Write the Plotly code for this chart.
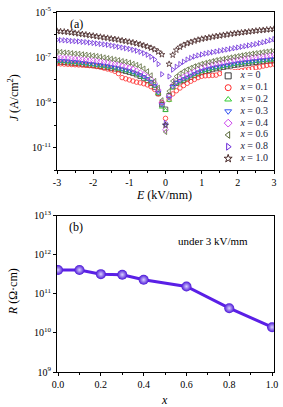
import plotly.graph_objects as go

# ---------------- data ----------------
E = [round(-3.0 + 0.1 * i, 1) for i in range(61)]

# log10 J (A/cm^2), E = -3.0 ... 3.0 step 0.1
logJ_x0 = [-7.20, -7.21, -7.22, -7.24, -7.25, -7.27, -7.28, -7.30, -7.32, -7.34,
           -7.36, -7.38, -7.40, -7.43, -7.45, -7.48, -7.51, -7.54, -7.58, -7.62,
           -7.66, -7.71, -7.77, -7.84, -7.92, -8.02, -8.15, -8.32, -8.60, -9.10,
           -9.30,
           -8.70, -8.30, -8.15, -8.08, -8.02, -7.95, -7.88, -7.80, -7.73, -7.67,
           -7.62, -7.58, -7.54, -7.50, -7.47, -7.44, -7.41, -7.38, -7.35, -7.33,
           -7.30, -7.28, -7.26, -7.24, -7.22, -7.20, -7.19, -7.17, -7.16, -7.15]
logJ_x01 = [-7.28, -7.29, -7.30, -7.31, -7.32, -7.33, -7.34, -7.35, -7.36, -7.37,
            -7.38, -7.41, -7.44, -7.48, -7.52, -7.56, -7.62, -7.72, -7.90, -7.95,
            -8.00, -8.05, -8.10, -8.13, -8.17, -8.22, -8.30, -8.42, -8.62, -9.00,
            -9.70,
            -8.87, -8.62, -8.48, -8.36, -8.25, -8.15, -8.06, -7.98, -7.90, -7.84,
            -7.82, -7.81, -7.80, -7.79, -7.72, -7.70, -7.68, -7.66, -7.64, -7.62,
            -7.59, -7.56, -7.53, -7.50, -7.46, -7.43, -7.39, -7.36, -7.33, -7.30]
logJ_x02 = [-7.17, -7.18, -7.19, -7.21, -7.22, -7.24, -7.25, -7.27, -7.29, -7.31,
            -7.33, -7.35, -7.37, -7.40, -7.42, -7.45, -7.48, -7.52, -7.55, -7.59,
            -7.63, -7.68, -7.74, -7.81, -7.89, -7.98, -8.10, -8.28, -8.60, -9.20,
            -9.35,
            -8.90, -8.35, -8.15, -8.06, -7.99, -7.91, -7.83, -7.76, -7.69, -7.63,
            -7.58, -7.54, -7.50, -7.46, -7.43, -7.40, -7.37, -7.34, -7.31, -7.29,
            -7.26, -7.24, -7.22, -7.20, -7.18, -7.16, -7.15, -7.13, -7.12, -7.11]
logJ_x03 = [-7.14, -7.15, -7.16, -7.17, -7.19, -7.20, -7.22, -7.24, -7.26, -7.28,
            -7.30, -7.32, -7.34, -7.36, -7.39, -7.42, -7.45, -7.48, -7.52, -7.56,
            -7.60, -7.65, -7.71, -7.78, -7.86, -7.95, -8.07, -8.25, -8.55, -9.10,
            -10.0,
            -8.80, -8.30, -8.12, -8.03, -7.96, -7.88, -7.80, -7.72, -7.65, -7.59,
            -7.54, -7.50, -7.46, -7.43, -7.40, -7.37, -7.34, -7.31, -7.28, -7.25,
            -7.23, -7.21, -7.19, -7.17, -7.15, -7.13, -7.11, -7.10, -7.08, -7.07]
logJ_x04 = [-7.02, -7.03, -7.04, -7.05, -7.07, -7.08, -7.09, -7.11, -7.12, -7.14,
            -7.15, -7.17, -7.19, -7.21, -7.24, -7.27, -7.30, -7.33, -7.37, -7.41,
            -7.46, -7.52, -7.60, -7.68, -7.76, -7.86, -7.98, -8.15, -8.45, -9.00,
            -10.2,
            -8.75, -8.25, -8.05, -7.95, -7.87, -7.79, -7.71, -7.63, -7.54, -7.46,
            -7.41, -7.37, -7.33, -7.30, -7.27, -7.24, -7.21, -7.18, -7.15, -7.12,
            -7.09, -7.07, -7.04, -7.02, -7.00, -6.98, -6.96, -6.94, -6.92, -6.90]
logJ_x06 = [-6.76, -6.77, -6.79, -6.80, -6.82, -6.84, -6.85, -6.87, -6.89, -6.91,
            -6.93, -6.95, -6.98, -7.01, -7.04, -7.07, -7.10, -7.13, -7.17, -7.20,
            -7.24, -7.29, -7.34, -7.40, -7.50, -7.62, -7.80, -8.05, -8.35, -8.90,
            -10.3,
            -8.50, -8.05, -7.85, -7.72, -7.62, -7.54, -7.47, -7.40, -7.35, -7.29,
            -7.25, -7.21, -7.17, -7.13, -7.10, -7.07, -7.04, -7.01, -6.98, -6.95,
            -6.92, -6.89, -6.87, -6.84, -6.82, -6.80, -6.77, -6.75, -6.73, -6.71]
logJ_x08 = [-6.23, -6.24, -6.25, -6.26, -6.28, -6.29, -6.30, -6.32, -6.33, -6.35,
            -6.37, -6.39, -6.41, -6.43, -6.45, -6.48, -6.51, -6.54, -6.57, -6.60,
            -6.63, -6.67, -6.71, -6.76, -6.82, -6.89, -6.98, -7.10, -7.30, -7.75,
            -9.90,
            -7.85, -7.55, -7.42, -7.30, -7.20, -7.10, -7.03, -6.97, -6.92, -6.88,
            -6.84, -6.81, -6.78, -6.75, -6.72, -6.69, -6.66, -6.63, -6.60, -6.57,
            -6.54, -6.51, -6.48, -6.45, -6.42, -6.38, -6.34, -6.30, -6.25, -6.20]
logJ_x10 = [-5.84, -5.86, -5.87, -5.89, -5.91, -5.93, -5.96, -5.98, -6.00, -6.03,
            -6.05, -6.08, -6.10, -6.13, -6.15, -6.18, -6.20, -6.23, -6.26, -6.29,
            -6.32, -6.35, -6.39, -6.43, -6.48, -6.53, -6.59, -6.66, -6.76, -6.88,
            -10.0,
            -7.30, -6.90, -6.68, -6.55, -6.46, -6.39, -6.33, -6.28, -6.23, -6.19,
            -6.16, -6.13, -6.10, -6.07, -6.05, -6.02, -6.00, -5.97, -5.95, -5.93,
            -5.91, -5.89, -5.87, -5.85, -5.83, -5.81, -5.80, -5.78, -5.77, -5.75]

series_labels = ["0", "0.1", "0.2", "0.3", "0.4", "0.6", "0.8", "1.0"]
series_logJ = [logJ_x0, logJ_x01, logJ_x02, logJ_x03, logJ_x04, logJ_x06, logJ_x08, logJ_x10]

# panel (b): resistivity under 3 kV/mm
x_comp = [0.0, 0.1, 0.2, 0.3, 0.4, 0.6, 0.8, 1.0]
R_vals = [4.1e11, 4.1e11, 3.2e11, 3.1e11, 2.3e11, 1.55e11, 4.3e10, 1.4e10]

# ---------------- styles ----------------
symbols = ["square-open", "circle-open", "triangle-up-open", "triangle-down-open",
           "diamond-open", "triangle-left-open", "triangle-right-open", "star-open"]
colors = ["#3a3a3a", "#ff2a2a", "#33cc33", "#3050f0", "#cc44ee", "#5a6a3a", "#6a28d8", "#4a2a2a"]
FONT = "Liberation Serif"

fig = go.Figure()

for lab, lj, sym, col in zip(series_labels, series_logJ, symbols, colors):
    fig.add_trace(go.Scatter(
        x=E, y=[10 ** v for v in lj], mode="markers",
        marker=dict(symbol=sym, size=4.5, color=col, line=dict(width=0.8, color=col)),
        xaxis="x", yaxis="y", showlegend=False))

# custom legend (compact rows) in its own axis
for i, (lab, sym, col) in enumerate(zip(series_labels, symbols, colors)):
    fig.add_trace(go.Scatter(
        x=[0.12], y=[i], mode="markers+text",
        marker=dict(symbol=sym, size=6, color=col, line=dict(width=1, color=col)),
        text=["   <i>x</i> = " + lab], textposition="middle right",
        textfont=dict(family=FONT, size=10, color="#1a1a3a"),
        xaxis="x3", yaxis="y3", showlegend=False, cliponaxis=False))

fig.add_trace(go.Scatter(
    x=x_comp, y=R_vals, mode="lines+markers",
    line=dict(color="#5a1fe6", width=3),
    marker=dict(symbol="circle", size=10, color="#4a14d8",
                gradient=dict(type="radial", color="#d8d0ff"),
                line=dict(width=0)),
    xaxis="x2", yaxis="y2", showlegend=False))

axis_common = dict(showline=True, linecolor="black", linewidth=1, mirror=True,
                   ticks="outside", ticklen=3, tickcolor="black", showgrid=False,
                   zeroline=False, tickfont=dict(family=FONT, size=10, color="black"))

top_dom = [0.560, 1.0]
bot_dom = [0.0, 0.434]

ytv = [1e-11, 1e-9, 1e-7, 1e-5]
ytt = ["10<sup>-11</sup>", "10<sup>-9</sup>", "10<sup>-7</sup>", "10<sup>-5</sup>"]
xtv = [-3, -2, -1, 0, 1, 2, 3]
xtt = ["-3", "-2", "-1", "0", "1", "2", "3"]
rtv = [1e9, 1e10, 1e11, 1e12, 1e13]
rtt = ["10<sup>9</sup>", "10<sup>10</sup>", "10<sup>11</sup>", "10<sup>12</sup>", "10<sup>13</sup>"]
btv = [0.0, 0.2, 0.4, 0.6, 0.8, 1.0]
btt = ["0.0", "0.2", "0.4", "0.6", "0.8", "1.0"]

fig.update_layout(
    width=283, height=407,
    margin=dict(l=57, r=5, t=6, b=35),
    paper_bgcolor="white", plot_bgcolor="white",
    font=dict(family=FONT, size=10, color="black"),
    xaxis=dict(domain=[0, 1], anchor="y", range=[-3, 3], tickvals=xtv, ticktext=xtt,
               minor=dict(ticks="outside", ticklen=2, dtick=0.5, tickcolor="black"),
               **axis_common),
    yaxis=dict(domain=top_dom, anchor="x", type="log", range=[-12, -5],
               tickvals=ytv, ticktext=ytt,
               minor=dict(ticks="outside", ticklen=2, tickvals=[1e-12, 1e-10, 1e-8, 1e-6],
                          tickcolor="black"),
               **axis_common),
    xaxis2=dict(domain=[0, 1], anchor="y2", range=[-0.005, 1.009], tickvals=btv, ticktext=btt,
                minor=dict(ticks="outside", ticklen=2, dtick=0.1, tickcolor="black"),
                **axis_common),
    yaxis2=dict(domain=bot_dom, anchor="x2", type="log", range=[9, 13],
                tickvals=rtv, ticktext=rtt, **axis_common),
    xaxis3=dict(domain=[0.76, 1.0], anchor="y3", range=[0, 1], visible=False),
    yaxis3=dict(domain=[0.5765, 0.839], anchor="x3", range=[7.5, -0.5], visible=False),
    annotations=[
        dict(text="(a)", x=77, y=18, font=dict(family=FONT, size=12)),
        dict(text="(b)", x=76, y=225, font=dict(family=FONT, size=12)),
        dict(text="under 3 kV/mm", x=216, y=239, font=dict(family=FONT, size=11)),
        dict(text="<i>J</i> (A/cm<sup>2</sup>)", x=13, y=93, textangle=-90,
             font=dict(family=FONT, size=12)),
        dict(text="<i>E</i> (kV/mm)", x=166, y=192, font=dict(family=FONT, size=12)),
        dict(text="<i>R</i> (Ω·cm)", x=13, y=290, textangle=-90,
             font=dict(family=FONT, size=12)),
        dict(text="<i>x</i>", x=166, y=400, font=dict(family=FONT, size=12)),
    ],
)

# convert annotation pixel positions to paper coordinates
pw, ph = 283 - 57 - 5, 407 - 6 - 35
for a in fig.layout.annotations:
    px, py = a.x, a.y
    a.x = (px - 57) / pw
    a.y = (407 - 35 - py) / ph
    a.xref = "paper"
    a.yref = "paper"
    a.showarrow = False
    a.xanchor = "center"
    a.yanchor = "middle"

fig.write_html("out.html",
               config={"displayModeBar": False},
               post_script="document.body.style.margin='0px';document.body.style.overflow='hidden';")
